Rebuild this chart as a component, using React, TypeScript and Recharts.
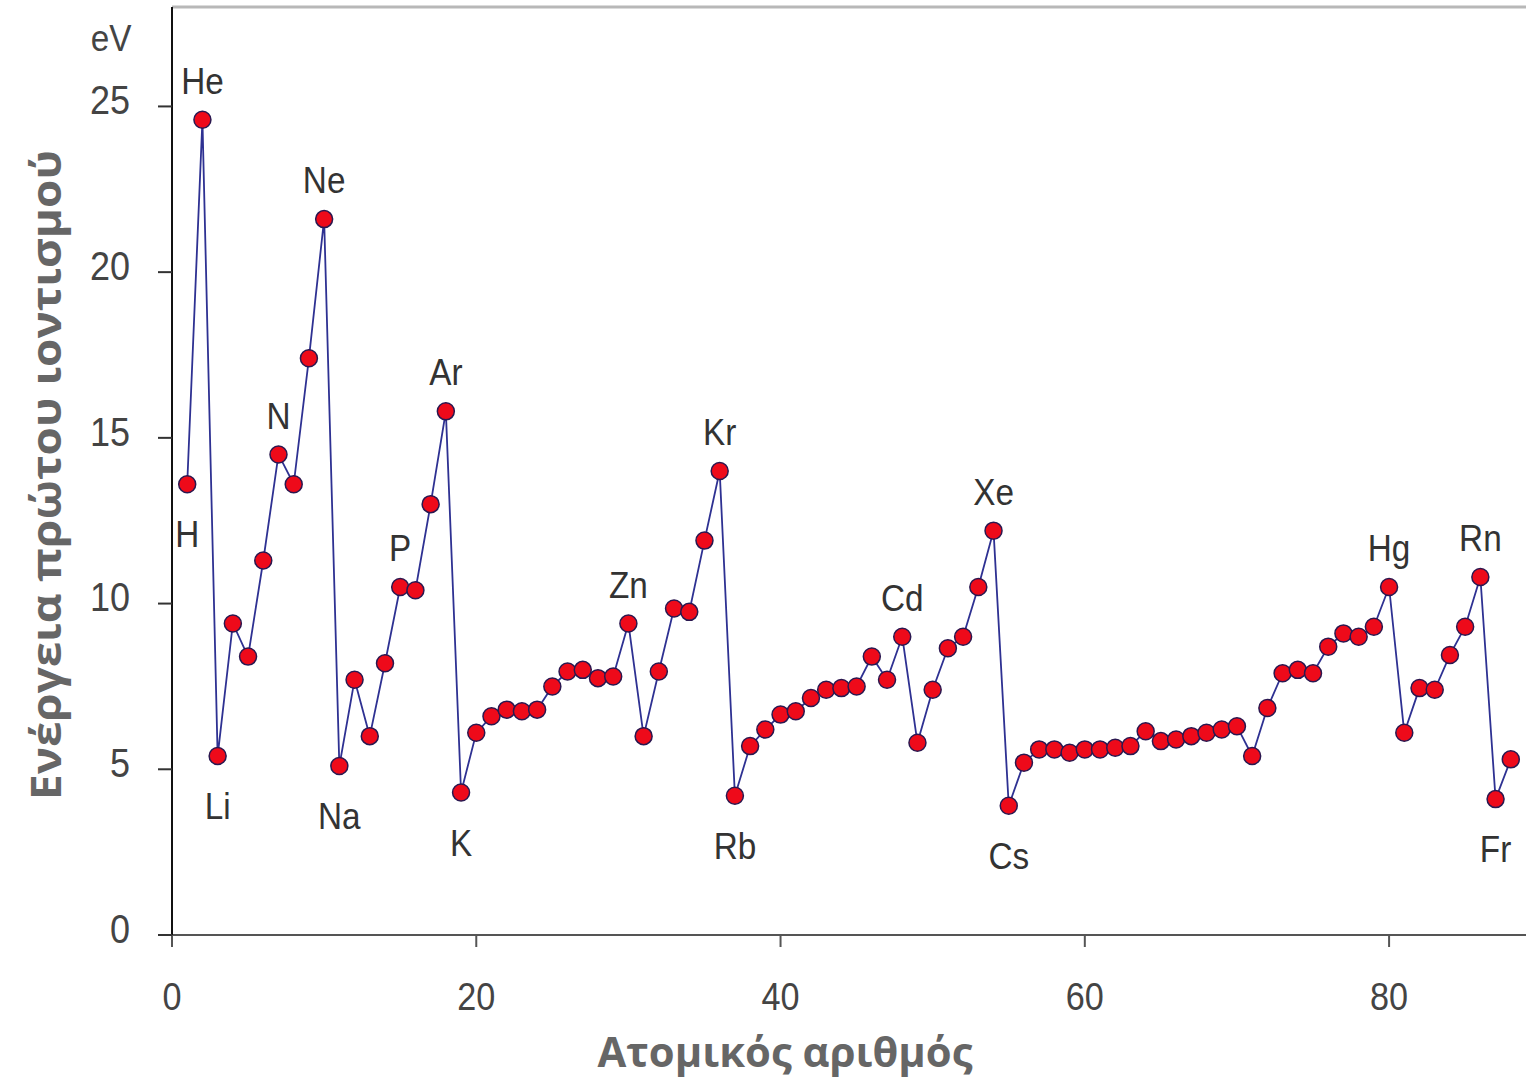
import { LineChart, Line, XAxis, YAxis, ReferenceLine, LabelList, Label } from 'recharts';

const atomicNumbers = [
  1, 2, 3, 4, 5, 6, 7, 8, 9, 10, 11, 12, 13, 14, 15, 16, 17, 18, 19, 20,
  21, 22, 23, 24, 25, 26, 27, 28, 29, 30, 31, 32, 33, 34, 35, 36, 37, 38, 39, 40,
  41, 42, 43, 44, 45, 46, 47, 48, 49, 50, 51, 52, 53, 54, 55, 56, 57, 58, 59, 60,
  61, 62, 63, 64, 65, 66, 67, 68, 69, 70, 71, 72, 73, 74, 75, 76, 77, 78, 79, 80,
  81, 82, 83, 84, 85, 86, 87, 88,
];

const symbols = [
  'H', 'He', 'Li', 'Be', 'B', 'C', 'N', 'O', 'F', 'Ne', 'Na', 'Mg', 'Al', 'Si', 'P', 'S', 'Cl', 'Ar', 'K', 'Ca',
  'Sc', 'Ti', 'V', 'Cr', 'Mn', 'Fe', 'Co', 'Ni', 'Cu', 'Zn', 'Ga', 'Ge', 'As', 'Se', 'Br', 'Kr', 'Rb', 'Sr', 'Y', 'Zr',
  'Nb', 'Mo', 'Tc', 'Ru', 'Rh', 'Pd', 'Ag', 'Cd', 'In', 'Sn', 'Sb', 'Te', 'I', 'Xe', 'Cs', 'Ba', 'La', 'Ce', 'Pr', 'Nd',
  'Pm', 'Sm', 'Eu', 'Gd', 'Tb', 'Dy', 'Ho', 'Er', 'Tm', 'Yb', 'Lu', 'Hf', 'Ta', 'W', 'Re', 'Os', 'Ir', 'Pt', 'Au', 'Hg',
  'Tl', 'Pb', 'Bi', 'Po', 'At', 'Rn', 'Fr', 'Ra',
];

// first ionisation energy, eV
const energies = [
  13.6, 24.6, 5.4, 9.4, 8.4, 11.3, 14.5, 13.6, 17.4, 21.6, 5.1, 7.7, 6.0, 8.2, 10.5, 10.4, 13.0, 15.8, 4.3, 6.1,
  6.6, 6.8, 6.75, 6.8, 7.5, 7.95, 8.0, 7.75, 7.8, 9.4, 6.0, 7.95, 9.85, 9.75, 11.9, 14.0, 4.2, 5.7, 6.2, 6.65,
  6.75, 7.15, 7.4, 7.45, 7.5, 8.4, 7.7, 9.0, 5.8, 7.4, 8.65, 9.0, 10.5, 12.2, 3.9, 5.2, 5.6, 5.6, 5.5, 5.6,
  5.6, 5.65, 5.7, 6.15, 5.85, 5.9, 6.0, 6.1, 6.2, 6.3, 5.4, 6.85, 7.9, 8.0, 7.9, 8.7, 9.1, 9.0, 9.3, 10.5,
  6.1, 7.45, 7.4, 8.45, 9.3, 10.8, 4.1, 5.3,
];

const labelsAbove = ['He', 'N', 'Ne', 'P', 'Ar', 'Zn', 'Kr', 'Cd', 'Xe', 'Hg', 'Rn'];
const labelsBelow = ['H', 'Li', 'Na', 'K', 'Rb', 'Cs', 'Fr'];

const xTicks = [0, 20, 40, 60, 80];
const yTicks = [0, 5, 10, 15, 20, 25];

const data = atomicNumbers.map((z, i) => ({ z, ev: energies[i], sym: symbols[i] }));

const SANS = '"Liberation Sans", Arial, sans-serif';

function SmallText({ x, y, children, size = 38, fill = '#444', anchor = 'middle' }: any) {
  return (
    <text
      transform={`translate(${x},${y}) scale(0.9,1)`}
      textAnchor={anchor}
      dominantBaseline="central"
      fontFamily={SANS}
      fontSize={size}
      fill={fill}
    >
      {children}
    </text>
  );
}

const XTick = ({ x, payload }: any) => <SmallText x={x} y={997}>{payload.value}</SmallText>;
const YTick = ({ x, y, payload }: any) => (
  <SmallText x={x} y={y - 6} anchor="end" size={40}>{payload.value}</SmallText>
);

const elementLabel = (props: any) => {
  const { x, y, value } = props;
  if (labelsAbove.includes(value)) return <SmallText x={x} y={y - 39} fill="#333" size={37}>{value}</SmallText>;
  if (labelsBelow.includes(value)) return <SmallText x={x} y={y + 50} fill="#333" size={37}>{value}</SmallText>;
  return null;
};

const yTitle = () => (
  <g>
    <SmallText x={111} y={38} size={37}>eV</SmallText>
    <text
      transform="translate(45,475) rotate(-90)"
      textAnchor="middle"
      dominantBaseline="central"
      fontFamily='"Open Sans", sans-serif'
      fontWeight="bold"
      fontSize={41}
      fill="#666"
      textLength={650}
      lengthAdjust="spacingAndGlyphs"
    >
      Ενέργεια πρώτου ιοντισμού
    </text>
  </g>
);

const xTitle = () => (
  <text
    x={785}
    y={1051}
    textAnchor="middle"
    dominantBaseline="central"
    fontFamily='"Open Sans", sans-serif'
    fontWeight="bold"
    fontSize={41}
    fill="#666"
    textLength={375}
    lengthAdjust="spacingAndGlyphs"
  >
    Ατομικός αριθμός
  </text>
);

export default function App() {
  return (
    <div style={{ position: 'absolute', left: 0, top: 0, background: '#fff' }}>
      <LineChart width={1526} height={1083} data={data} margin={{ top: 7, right: 0, bottom: 0, left: 0 }}>
        <XAxis
          type="number"
          dataKey="z"
          domain={[0, 89]}
          ticks={xTicks}
          allowDataOverflow
          height={148}
          tickSize={12}
          axisLine={{ stroke: '#555', strokeWidth: 2 }}
          tickLine={{ stroke: '#555', strokeWidth: 2 }}
          tick={<XTick />}
        >
          <Label content={xTitle} />
        </XAxis>
        <YAxis
          type="number"
          domain={[0, 28]}
          ticks={yTicks}
          allowDataOverflow
          width={172}
          tickSize={14}
          tickMargin={28}
          axisLine={{ stroke: '#111', strokeWidth: 2 }}
          tickLine={{ stroke: '#333', strokeWidth: 2 }}
          tick={<YTick />}
        >
          <Label content={yTitle} />
        </YAxis>
        <ReferenceLine y={28} stroke="#b8b8b8" strokeWidth={3} />
        <Line
          type="linear"
          dataKey="ev"
          stroke="#2e3192"
          strokeWidth={1.8}
          dot={{ r: 8.5, fill: '#ee0a1a', stroke: '#2a1850', strokeWidth: 1.5 }}
          isAnimationActive={false}
        >
          <LabelList dataKey="sym" content={elementLabel} />
        </Line>
      </LineChart>
    </div>
  );
}
